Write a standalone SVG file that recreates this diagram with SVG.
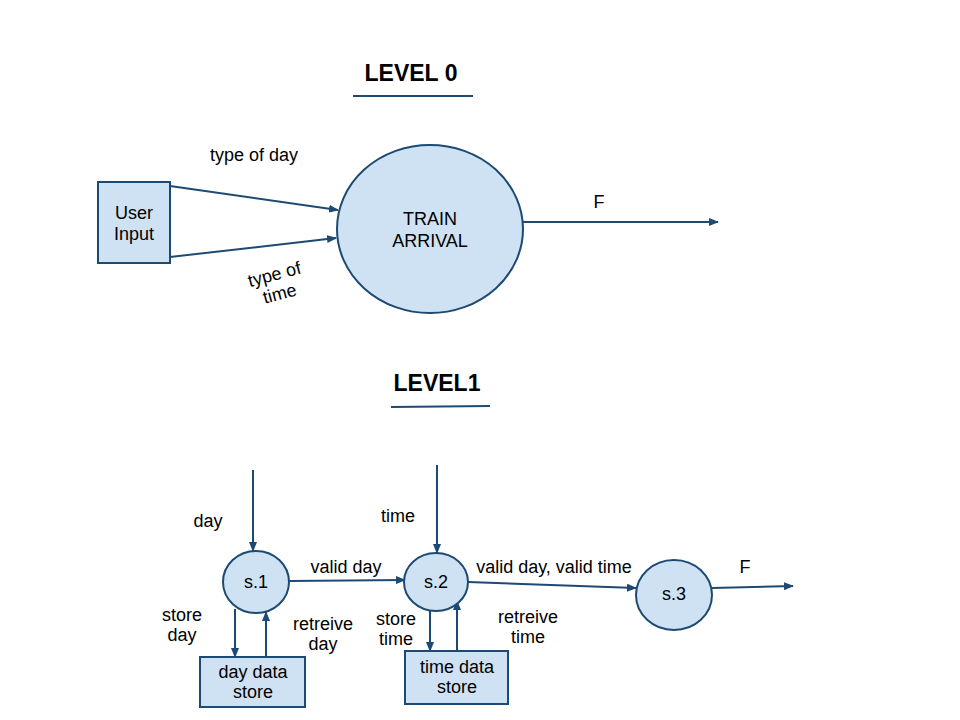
<svg xmlns="http://www.w3.org/2000/svg" width="960" height="720" viewBox="0 0 960 720">
<style>
.n{fill:#cfe2f3;stroke:#1c4a72;stroke-width:2}
.c{stroke:#1c4a72;stroke-width:2;fill:none;marker-end:url(#a)}
.u{stroke:#1c4a72;stroke-width:2;fill:none}
text{font-family:"Liberation Sans",Arial,sans-serif;font-size:18px;fill:#000;text-anchor:middle}
.h{font-size:23px;font-weight:bold}
</style>
<defs>
<marker id="a" markerWidth="10" markerHeight="8" refX="9" refY="4" orient="auto" markerUnits="userSpaceOnUse">
<path d="M0,0 L10,4 L0,8 Z" fill="#1c4a72"/>
</marker>
</defs>
<rect width="960" height="720" fill="#fff"/>
<g id="titles">
<text class="h" x="411" y="81">LEVEL 0</text>
<line class="u" x1="353" y1="96" x2="473" y2="96"/>
<text class="h" x="437" y="391">LEVEL1</text>
<line class="u" x1="391" y1="407" x2="490" y2="406"/>
</g>
<g id="connectors">
<line class="c" x1="170" y1="186" x2="338" y2="210"/>
<line class="c" x1="170" y1="257" x2="336" y2="238"/>
<line class="c" x1="523" y1="222" x2="718" y2="222"/>
<line class="c" x1="253" y1="470" x2="253" y2="551"/>
<line class="c" x1="437" y1="465" x2="437" y2="553"/>
<line class="c" x1="235" y1="609" x2="235" y2="657"/>
<line class="c" x1="266" y1="657" x2="266" y2="612"/>
<line class="c" x1="430" y1="604" x2="430" y2="651"/>
<line class="c" x1="457" y1="651" x2="457" y2="601"/>
<line class="c" x1="289" y1="581" x2="405" y2="580"/>
<line class="c" x1="468" y1="582" x2="636" y2="588"/>
<line class="c" x1="712" y1="588" x2="793" y2="586"/>
</g>
<g id="labels">
<text x="254" y="161">type of day</text>
<g transform="rotate(-15 277 284)">
<text x="277" y="280">type of</text>
<text x="277" y="300">time</text>
</g>
<text x="599" y="208">F</text>
<text x="208" y="527">day</text>
<text x="398" y="522">time</text>
<text x="346" y="573">valid day</text>
<text x="182" y="621">store</text>
<text x="182" y="641">day</text>
<text x="323" y="630">retreive</text>
<text x="323" y="650">day</text>
<text x="396" y="625">store</text>
<text x="396" y="645">time</text>
<text x="554" y="573">valid day, valid time</text>
<text x="745" y="573">F</text>
<text x="528" y="623">retreive</text>
<text x="528" y="643">time</text>
</g>
<g id="user-input">
<rect class="n" x="98" y="182" width="72" height="81"/>
<text x="134" y="219">User</text>
<text x="134" y="240">Input</text>
</g>
<g id="train-arrival">
<ellipse class="n" cx="430" cy="229" rx="93" ry="84"/>
<text x="430" y="225">TRAIN</text>
<text x="430" y="247">ARRIVAL</text>
</g>
<g id="s1">
<ellipse class="n" cx="256" cy="582" rx="33" ry="31"/>
<text x="256" y="588">s.1</text>
</g>
<g id="s2">
<ellipse class="n" cx="436" cy="582" rx="32" ry="29"/>
<text x="436" y="588">s.2</text>
</g>
<g id="s3">
<ellipse class="n" cx="674" cy="595" rx="38" ry="35"/>
<text x="674" y="600">s.3</text>
</g>
<g id="day-store">
<rect class="n" x="200" y="657" width="105" height="50"/>
<text x="253" y="678">day data</text>
<text x="253" y="698">store</text>
</g>
<g id="time-store">
<rect class="n" x="405" y="651" width="103" height="53"/>
<text x="457" y="673">time data</text>
<text x="457" y="693">store</text>
</g>
</svg>
